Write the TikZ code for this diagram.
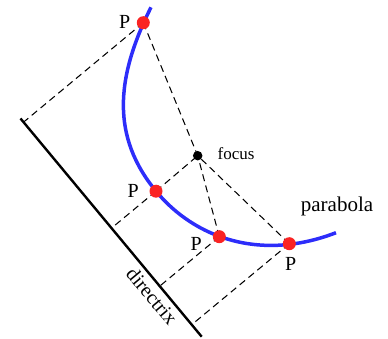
\documentclass[tikz,border=0pt]{standalone}
\usepackage{fontspec}
\setmainfont{Liberation Serif}
\usetikzlibrary{calc}
\definecolor{pblue}{RGB}{45,45,250}
\definecolor{pred}{RGB}{250,35,35}
\begin{document}
\begin{tikzpicture}[x=1pt,y=-1pt,
  dashline/.style={line width=1.05pt, dash pattern=on 7pt off 4.5pt},
  pdot/.style={circle, fill=pred, inner sep=0pt, minimum size=13pt},
  fdot/.style={circle, fill=black, inner sep=0pt, minimum size=9.5pt},
  lbl/.style={font=\fontsize{20}{24}\selectfont, inner sep=0pt},
  smalllbl/.style={font=\fontsize{17}{20}\selectfont, inner sep=0pt}]
\useasboundingbox (0,0) rectangle (388,339);
% directrix ends
\coordinate (d0) at (20.5,118.5);
\coordinate (d1) at (201.7,336.7);
% points
\coordinate (P1) at (143.3,22.7);
\coordinate (P2) at (156,191.2);
\coordinate (P3) at (219.3,236.7);
\coordinate (P4) at (289.3,243.7);
\coordinate (Fc) at (197.7,155.7);
% feet on the directrix
\coordinate (H1) at ($(d0)!(P1)!(d1)$);
\coordinate (H2) at ($(d0)!(P2)!(d1)$);
\coordinate (H3) at ($(d0)!(P3)!(d1)$);
\coordinate (H4) at ($(d0)!(P4)!(d1)$);
% dashed lines
\foreach \p/\h in {P1/H1,P2/H2,P3/H3,P4/H4}{
  \draw[dashline] (\p) -- (\h);
  \draw[dashline] (\p) -- (Fc);
}
% directrix
\draw[line width=2.4pt] (d0) -- (d1)
  node[pos=0.778, sloped, below, lbl, inner sep=4pt] (dlab) {directrix};
% parabola
\draw[pblue, line width=3.5pt]
  (151,7.3) .. controls (115.2,78.8) and (111.5,137.2) .. (P2)
  .. controls (194.2,237.5) and (260,262) .. (336,232.7);
% dots
\node[fdot] (F) at (Fc) {};
\node[pdot] (n1) at (P1) {};
\node[pdot] (n2) at (P2) {};
\node[pdot] (n3) at (P3) {};
\node[pdot] (n4) at (P4) {};
% labels
\node[lbl, anchor=base] (l1) at (124.7,29) {P};
\node[lbl, anchor=base] (l2) at (133.2,197.5) {P};
\node[lbl, anchor=base] (l3) at (196.2,250.5) {P};
\node[lbl, anchor=base] (l4) at (290.7,270) {P};
\node[smalllbl, anchor=base west] (fl) at (217.5,160) {focus};
\node[lbl, font=\fontsize{21}{24}\selectfont, anchor=base west] (pl) at (300.7,211.7) {parabola};
\end{tikzpicture}
\end{document}
